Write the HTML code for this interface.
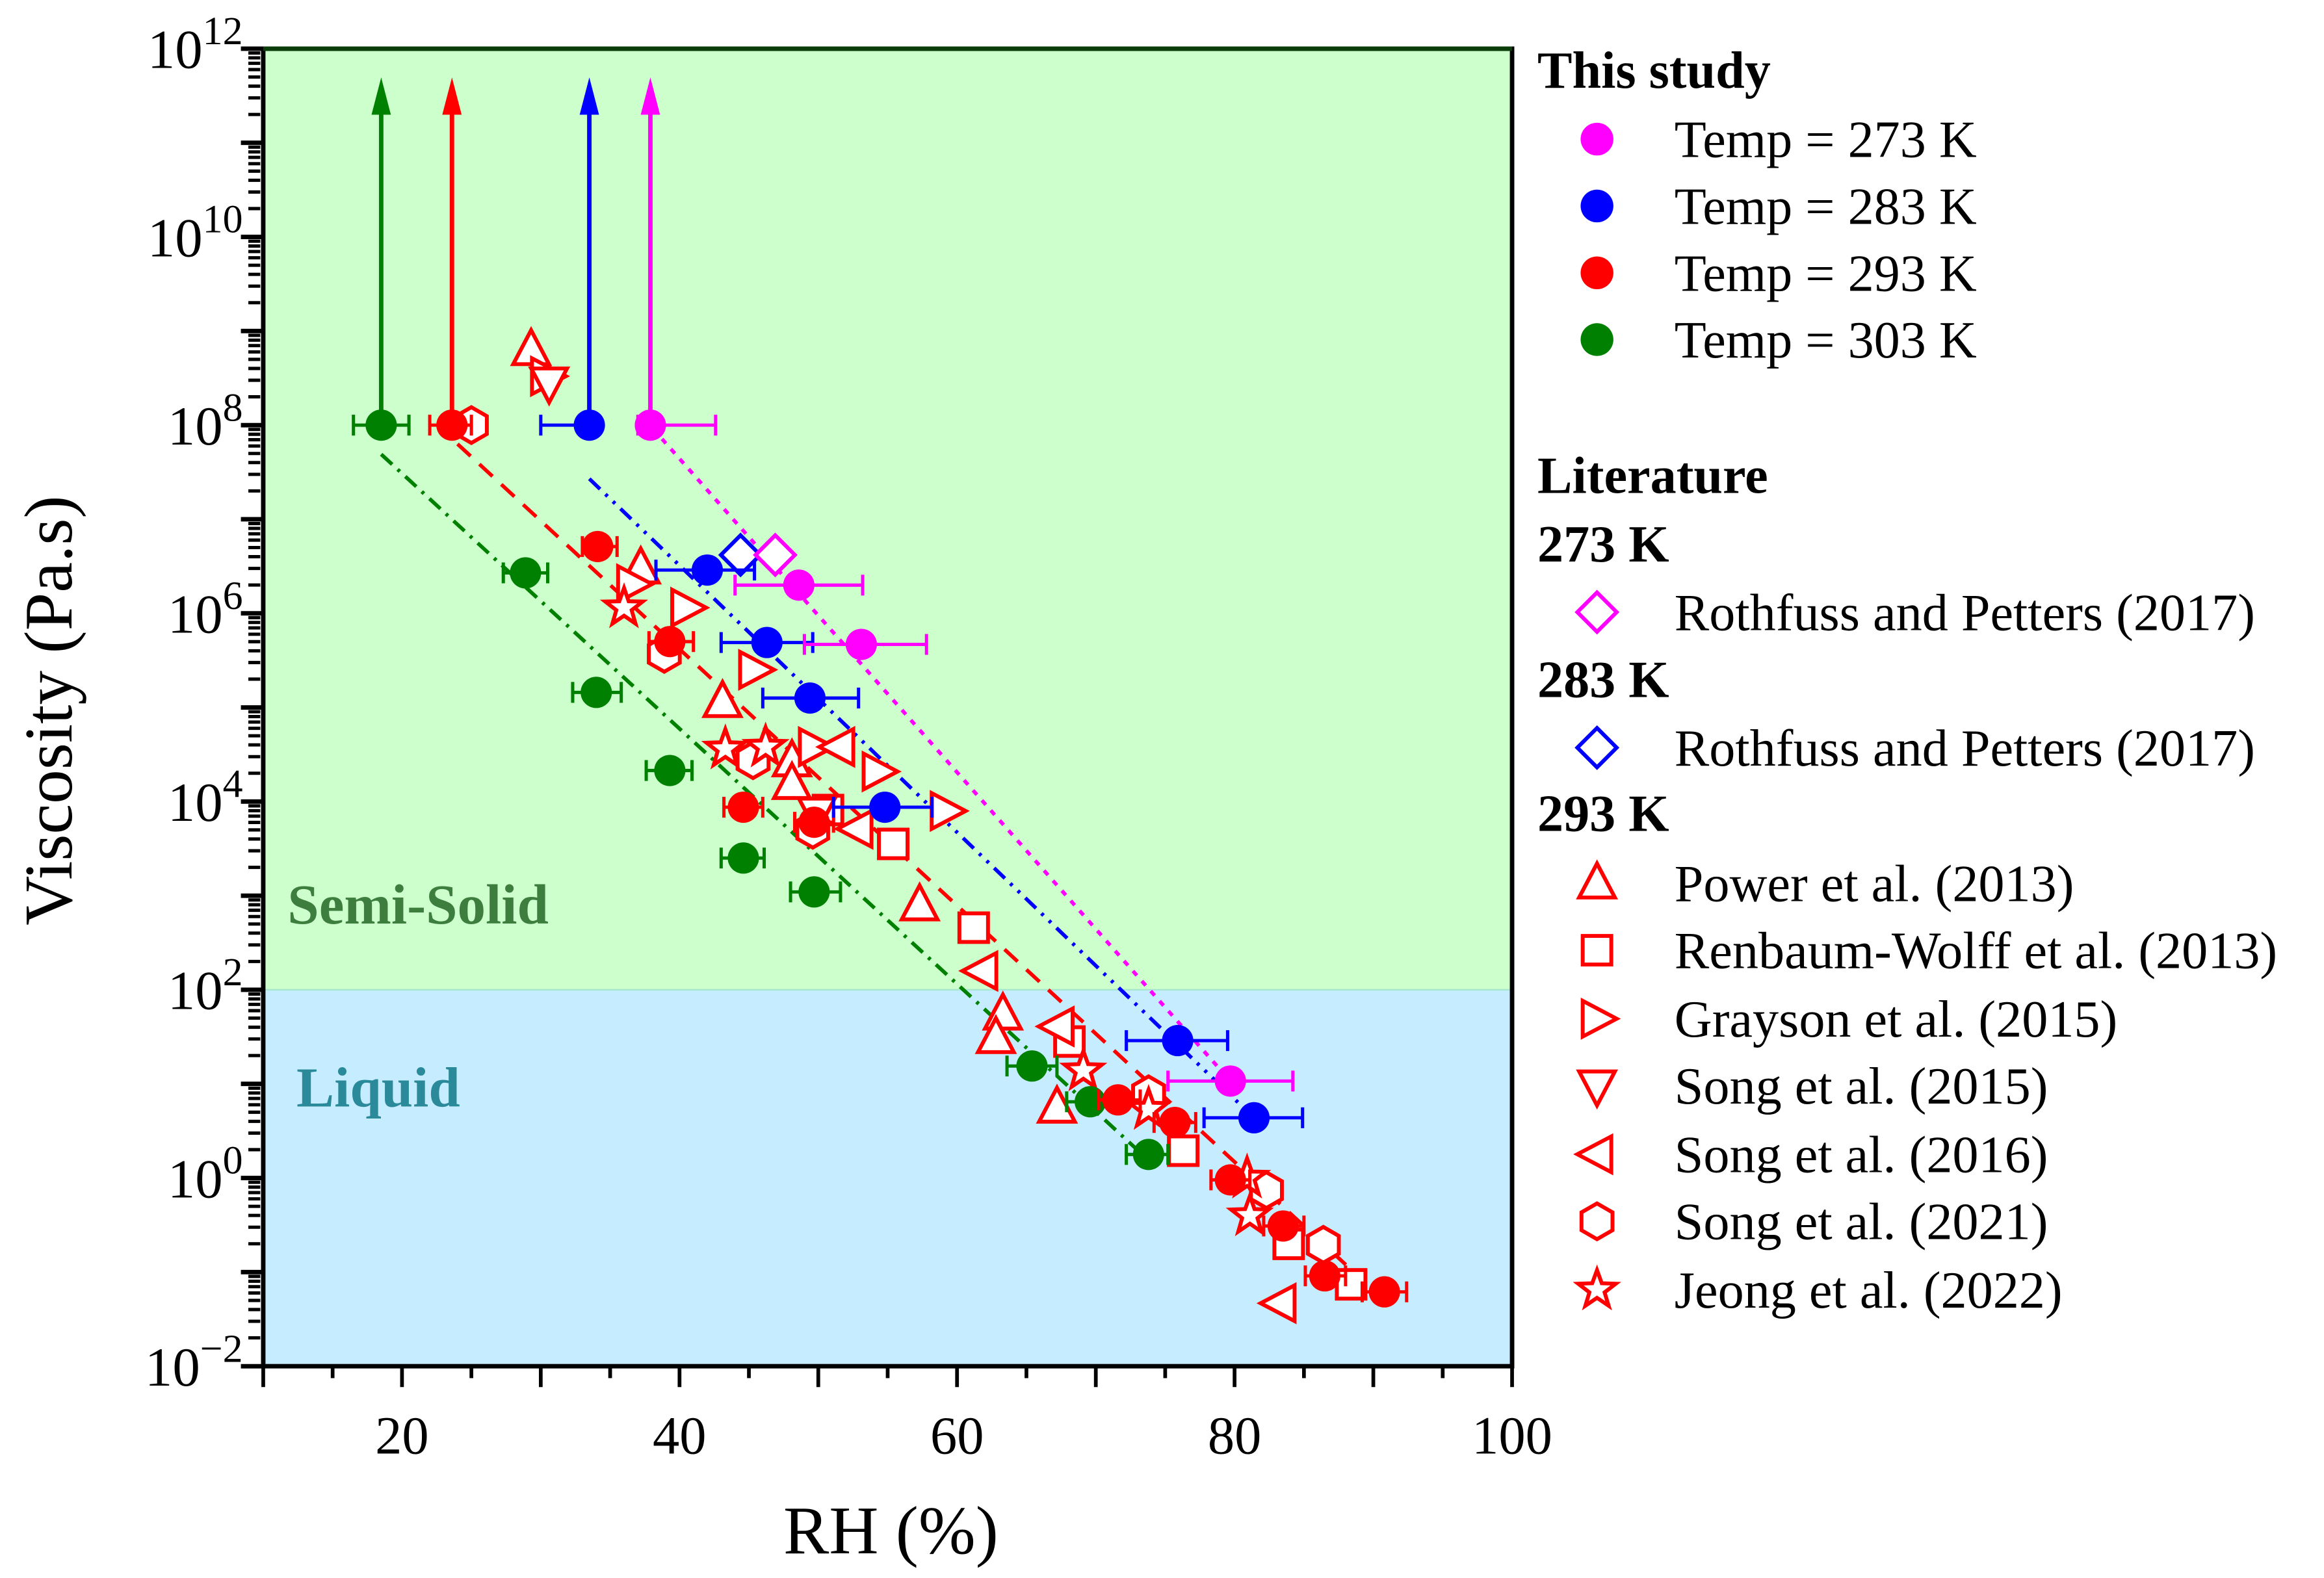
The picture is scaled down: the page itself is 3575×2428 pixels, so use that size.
<!DOCTYPE html>
<html><head><meta charset="utf-8">
<style>
html,body{margin:0;padding:0;background:#fff;}
svg{display:block;font-family:"Liberation Serif",serif;}
</style></head>
<body>
<svg id="chart" width="3575" height="2428" viewBox="0 0 1560 1059.5" xmlns="http://www.w3.org/2000/svg">
<g id="plot"></g>
<g id="axes"></g>
<g id="legend"></g>
</svg>
<script>
// ---- data ----
const xTicks = [20, 40, 60, 80, 100];
const yTickExps = [-2, 0, 2, 4, 6, 8, 10, 12];
// this study: RH, log10 viscosity, RH error low, RH error high
const s273RH = [37.9, 48.6, 53.1, 79.7];
const s273LogV = [8, 6.30, 5.67, 1.03];
const s273Xlo = [37.0, 44.0, 49.0, 75.2];
const s273Xhi = [42.6, 53.2, 57.8, 84.2];
const s283RH = [33.5, 42.0, 46.3, 49.4, 54.8, 75.9, 81.4];
const s283LogV = [8, 6.46, 5.69, 5.10, 3.94, 1.46, 0.64];
const s283Xlo = [30.0, 38.3, 43.0, 46.0, 51.1, 72.2, 77.8];
const s283Xhi = [33.5, 45.4, 49.6, 52.9, 58.2, 79.5, 84.9];
const s293RH = [23.6, 34.1, 39.3, 44.6, 49.7, 71.6, 75.7, 79.7, 83.5, 86.5, 90.8];
const s293LogV = [8, 6.71, 5.70, 3.94, 3.78, 0.83, 0.59, -0.02, -0.51, -1.04, -1.21];
const s293Xlo = [22.0, 33.0, 37.8, 43.2, 48.3, 70.2, 74.2, 78.3, 82.1, 85.1, 89.2];
const s293Xhi = [25.0, 35.5, 41.0, 46.0, 51.1, 73.2, 77.2, 81.1, 85.0, 88.0, 92.4];
const s303RH = [18.5, 28.9, 34.0, 39.3, 44.6, 49.7, 65.4, 69.6, 73.8];
const s303LogV = [8, 6.43, 5.16, 4.33, 3.40, 3.04, 1.19, 0.81, 0.25];
const s303Xlo = [16.5, 27.3, 32.3, 37.6, 43.0, 48.0, 63.6, 67.9, 72.2];
const s303Xhi = [20.5, 30.5, 35.8, 40.9, 46.1, 51.6, 67.2, 71.2, 75.2];
// fit lines: [RH start, logV start, RH end, logV end]
const fit273 = [38.1, 7.96, 79.7, 1.03];
const fit283 = [33.5, 7.43, 81.4, 0.64];
const fit293 = [24.0, 7.80, 88.3, -0.96];
const fit303 = [18.5, 7.69, 73.8, 0.19];
// literature
const rp273RH = [46.9]; const rp273LogV = [6.62];
const rp283RH = [44.4]; const rp283LogV = [6.62];
const powerRH = [29.3, 37.2, 43.1, 48.1, 48.1, 57.3, 63.3, 62.8, 67.2];
const powerLogV = [8.80, 6.48, 5.06, 4.43, 4.19, 2.90, 1.74, 1.49, 0.75];
const renbRH = [61.2, 68.1, 76.3, 83.9, 88.4, 55.4, 50.7];
const renbLogV = [2.66, 1.45, 0.29, -0.70, -1.13, 3.55, 3.91];
const graysonRH = [30.4, 36.6, 40.5, 45.4, 54.3, 59.2, 49.7];
const graysonLogV = [8.52, 6.31, 6.06, 5.40, 4.32, 3.90, 4.58];
const song15RH = [30.6, 49.9];
const song15LogV = [8.45, 3.88];
const song16RH = [51.5, 61.8, 67.3, 83.3, 52.8];
const song16LogV = [4.58, 2.20, 1.61, -1.33, 3.71];
const song21RH = [25.0, 38.9, 45.3, 49.6, 73.8, 82.3, 86.4];
const song21LogV = [8.00, 5.57, 4.44, 3.70, 0.89, -0.13, -0.71];
const jeongRH = [36.0, 43.3, 46.2, 69.1, 73.8, 81.1, 80.9];
const jeongLogV = [6.06, 4.56, 4.58, 1.14, 0.73, -0.40, 0.00];

// ---- scales ----
const X0 = 176.7, XW = 838.3, Y0 = 32.7, YH = 884.6;
function sx(v){ return X0 + (v - 10) / 90 * XW; }
function sy(l){ return Y0 + (12 - l) / 14 * YH; }
const NS = "http://www.w3.org/2000/svg";
function mk(tag, attrs, parent){ const e = document.createElementNS(NS, tag); for (const k in attrs) e.setAttribute(k, attrs[k]); parent.appendChild(e); return e; }
const plot = document.getElementById('plot'), axes = document.getElementById('axes'), legend = document.getElementById('legend');

// backgrounds
let bg1 = mk('rect', {x:X0, y:Y0, width:XW, height:sy(2)-Y0, fill:'#ccffcc'}, plot);


let bg2 = mk('rect', {x:X0, y:sy(2), width:XW, height:Y0+YH-sy(2), fill:'#c5edff'}, plot);


mk('line', {x1:X0, x2:X0+XW, y1:sy(2), y2:sy(2), stroke:'#a8e6d0', 'stroke-width':1}, plot);

let t1 = mk('text', {x:193, y:620, 'font-size':38, 'font-weight':'bold', fill:'#3d7d3d'}, plot);
t1.textContent = 'Semi-Solid';


let t2 = mk('text', {x:199, y:743, 'font-size':38, 'font-weight':'bold', fill:'#2a8a9a'}, plot);
t2.textContent = 'Liquid';



// fit lines
function fitLine(f, color, dash, name){
  const l = mk('line', {x1:sx(f[0]), y1:sy(f[1]), x2:sx(f[2]), y2:sy(f[3]), stroke:color, 'stroke-width':2.5, 'stroke-dasharray':dash}, plot);
  
  
}
fitLine(fit273, '#ff00ff', '4 5', 'fit-line-273k');
fitLine(fit283, '#0000ff', '10 5 2 5 2 5', 'fit-line-283k');
fitLine(fit293, '#ff0000', '12 8', 'fit-line-293k');
fitLine(fit303, '#008000', '10 5 2 5', 'fit-line-303k');

// markers
const MS = 1.2;
function marker(shape, cx, cy, color, g, filled){
  const fill = filled ? color : '#fff', sw = 2.6;
  let e;
  if (shape === 'circle') e = mk('circle', {cx, cy, r:10.5, fill:color}, g);
  else if (shape === 'square') e = mk('rect', {x:cx-8*MS, y:cy-8*MS, width:16*MS, height:16*MS, fill, stroke:color, 'stroke-width':sw}, g);
  else {
    let pts;
    if (shape === 'up') pts = [[0,-11],[10,8],[-10,8]];
    else if (shape === 'down') pts = [[0,11],[10,-8],[-10,-8]];
    else if (shape === 'right') pts = [[11,0],[-8,10],[-8,-10]];
    else if (shape === 'left') pts = [[-11,0],[8,10],[8,-10]];
    else if (shape === 'diamond') pts = [[0,-11],[11,0],[0,11],[-11,0]];
    else if (shape === 'hex') pts = [0,1,2,3,4,5].map(i=>[10*Math.cos(Math.PI/6+i*Math.PI/3), 10*Math.sin(Math.PI/6+i*Math.PI/3)]);
    else if (shape === 'star') pts = [0,1,2,3,4,5,6,7,8,9].map(i=>{const rr = i%2? 4.5:11; const a = -Math.PI/2 + i*Math.PI/5; return [rr*Math.cos(a), rr*Math.sin(a)];});
    e = mk('polygon', {points: pts.map(p=>(cx+p[0]*MS).toFixed(1)+','+(cy+p[1]*MS).toFixed(1)).join(' '), fill, stroke:color, 'stroke-width':sw}, g);
  }
  return e;
}

function litSeries(rh, lv, shape, color, name){
  const g = mk('g', {}, plot);
  
  
  for (let i = 0; i < rh.length; i++){
    const m = marker(shape, sx(rh[i]), sy(lv[i]), color, g, false);
    
    
  }
}
litSeries(powerRH, powerLogV, 'up', '#ff0000', 'power-2013');
litSeries(renbRH, renbLogV, 'square', '#ff0000', 'renbaum-wolff-2013');
litSeries(graysonRH, graysonLogV, 'right', '#ff0000', 'grayson-2015');
litSeries(song15RH, song15LogV, 'down', '#ff0000', 'song-2015');
litSeries(song16RH, song16LogV, 'left', '#ff0000', 'song-2016');
litSeries(song21RH, song21LogV, 'hex', '#ff0000', 'song-2021');
litSeries(jeongRH, jeongLogV, 'star', '#ff0000', 'jeong-2022');
litSeries(rp283RH, rp283LogV, 'diamond', '#0000ff', 'rothfuss-283k');
litSeries(rp273RH, rp273LogV, 'diamond', '#ff00ff', 'rothfuss-273k');

const ARROW_TIP_Y = 52, ARROW_BASE_Y = 77;
function studySeries(rh, lv, lo, hi, color, name){
  const g = mk('g', {}, plot);
  
  
  for (let i = 0; i < rh.length; i++){
    const cx = sx(rh[i]), cy = sy(lv[i]);
    const x1 = sx(lo[i]), x2 = sx(hi[i]);
    mk('line', {x1, x2, y1:cy, y2:cy, stroke:color, 'stroke-width':2.2}, g);
    mk('line', {x1:x1, x2:x1, y1:cy-7, y2:cy+7, stroke:color, 'stroke-width':2.2}, g);
    mk('line', {x1:x2, x2:x2, y1:cy-7, y2:cy+7, stroke:color, 'stroke-width':2.2}, g);
    if (lv[i] >= 8){
      const a = mk('line', {x1:cx, x2:cx, y1:cy, y2:ARROW_BASE_Y, stroke:color, 'stroke-width':3}, g);
      
      
      mk('polygon', {points:`${cx},${ARROW_TIP_Y} ${cx-6.5},${ARROW_BASE_Y} ${cx+6.5},${ARROW_BASE_Y}`, fill:color}, g);
    }
    const c = marker('circle', cx, cy, color, g, true);
    
    
  }
}
studySeries(s303RH, s303LogV, s303Xlo, s303Xhi, '#008000', 'study-303k');
studySeries(s293RH, s293LogV, s293Xlo, s293Xhi, '#ff0000', 'study-293k');
studySeries(s283RH, s283LogV, s283Xlo, s283Xhi, '#0000ff', 'study-283k');
studySeries(s273RH, s273LogV, s273Xlo, s273Xhi, '#ff00ff', 'study-273k');

// frame
mk('rect', {x:X0, y:Y0, width:XW, height:YH, fill:'none', stroke:'#000', 'stroke-width':3}, axes);
mk('line', {x1:X0, x2:X0+XW, y1:Y0, y2:Y0, stroke:'#0a3d0a', 'stroke-width':3}, axes);
// x ticks
for (let v = 10; v <= 100; v += 5){
  mk('line', {x1:sx(v), x2:sx(v), y1:Y0+YH, y2:Y0+YH+(v%10===0?14:8), stroke:'#000', 'stroke-width':2.5}, axes);
}
for (const v of xTicks){
  const t = mk('text', {x:sx(v), y:976, 'font-size':36, 'text-anchor':'middle'}, axes);
  t.textContent = v;
  
  
}
// y ticks
for (let d = -2; d <= 12; d++){
  mk('line', {x1:X0-15, x2:X0, y1:sy(d), y2:sy(d), stroke:'#000', 'stroke-width':3}, axes);
  if (d < 12) for (let k = 2; k <= 9; k++){
    const yy = sy(d + Math.log10(k));
    mk('line', {x1:X0-10, x2:X0-2, y1:yy, y2:yy, stroke:'#000', 'stroke-width':2.2}, axes);
  }
}
for (const e of yTickExps){
  const t = mk('text', {x:163, y:sy(e)+13, 'font-size':37, 'text-anchor':'end'}, axes);
  const s1 = mk('tspan', {}, t); s1.textContent = '10';
  const s2 = mk('tspan', {dy:-16, 'font-size':27}, t); s2.textContent = e < 0 ? '\u2212' + (-e) : String(e);
  
  
}
let xt = mk('text', {x:598, y:1043, 'font-size':46, 'text-anchor':'middle'}, axes);
xt.textContent = 'RH (%)';


let yt = mk('text', {x:0, y:0, 'font-size':46, 'text-anchor':'middle', transform:'translate(48,477) rotate(-90)'}, axes);
yt.textContent = 'Viscosity (Pa.s)';



// legend
function legHead(txt, y, name){
  const t = mk('text', {x:1032, y:y+11, 'font-size':35, 'font-weight':'bold'}, legend);
  t.textContent = txt;
  
  
}
function legEntry(shape, color, filled, txt, y, name){
  const g = mk('g', {}, legend);
  
  
  if (shape === 'circle') mk('circle', {cx:1072, cy:y, r:11, fill:color}, g);
  else marker(shape, 1072, y, color, g, filled);
  const t = mk('text', {x:1124, y:y+12, 'font-size':35}, g);
  t.textContent = txt;
}
legHead('This study', 48, 'legend-this-study-heading');
legEntry('circle', '#ff00ff', true, 'Temp = 273 K', 93.4, 'legend-entry-273k');
legEntry('circle', '#0000ff', true, 'Temp = 283 K', 138.3, 'legend-entry-283k');
legEntry('circle', '#ff0000', true, 'Temp = 293 K', 183.2, 'legend-entry-293k');
legEntry('circle', '#008000', true, 'Temp = 303 K', 228, 'legend-entry-303k');
legHead('Literature', 320, 'legend-literature-heading');
legHead('273 K', 366, 'legend-273k-heading');
legEntry('diamond', '#ff00ff', false, 'Rothfuss and Petters (2017)', 411, 'legend-entry-rothfuss-273k');
legHead('283 K', 457, 'legend-283k-heading');
legEntry('diamond', '#0000ff', false, 'Rothfuss and Petters (2017)', 502, 'legend-entry-rothfuss-283k');
legHead('293 K', 547, 'legend-293k-heading');
legEntry('up', '#ff0000', false, 'Power et al. (2013)', 593, 'legend-entry-power');
legEntry('square', '#ff0000', false, 'Renbaum-Wolff et al. (2013)', 638, 'legend-entry-renbaum-wolff');
legEntry('right', '#ff0000', false, 'Grayson et al. (2015)', 684, 'legend-entry-grayson');
legEntry('down', '#ff0000', false, 'Song et al. (2015)', 729, 'legend-entry-song-2015');
legEntry('left', '#ff0000', false, 'Song et al. (2016)', 775, 'legend-entry-song-2016');
legEntry('hex', '#ff0000', false, 'Song et al. (2021)', 820, 'legend-entry-song-2021');
legEntry('star', '#ff0000', false, 'Jeong et al. (2022)', 866, 'legend-entry-jeong');
</script>
</body></html>
